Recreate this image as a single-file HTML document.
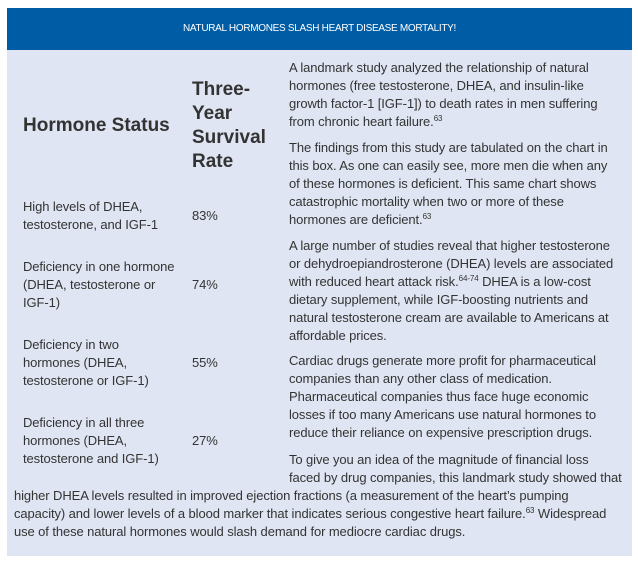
<!DOCTYPE html>
<html><head><meta charset="utf-8"><style>
body{margin:0;width:638px;height:564px;background:#fff;position:relative;font-family:"Liberation Sans",Arial,sans-serif;color:#333;overflow:hidden}
#box{position:absolute;left:7px;top:8px;width:625px;height:548px;background:#dfe5f2}
#hdr{position:absolute;left:7px;top:8px;width:625px;height:42px;background:#005ca4;color:#fff;font-size:10px;text-align:center;line-height:42px;letter-spacing:-0.3px}
.l{position:absolute;font-size:13px;line-height:18px;white-space:nowrap;letter-spacing:-0.1px}
.h{position:absolute;font-weight:bold;color:#333;white-space:nowrap}
sup{font-size:8px;vertical-align:5px;line-height:0}
</style></head><body>
<div id="box"></div>
<div id="hdr">NATURAL HORMONES SLASH HEART DISEASE MORTALITY!</div>

<div class="h" style="left:23px;top:114px;font-size:19px;line-height:24px">Hormone Status</div>
<div class="h" style="left:192px;top:78px;font-size:19px;line-height:24px">Three-<br>Year<br>Survival<br>Rate</div>

<div class="l" style="left:23px;top:198px">High levels of DHEA,<br>testosterone, and IGF-1</div>
<div class="l" style="left:192px;top:207px">83%</div>
<div class="l" style="left:23px;top:258px">Deficiency in one hormone<br>(DHEA, testosterone or<br>IGF-1)</div>
<div class="l" style="left:192px;top:276px">74%</div>
<div class="l" style="left:23px;top:336px">Deficiency in two<br>hormones (DHEA,<br>testosterone or IGF-1)</div>
<div class="l" style="left:192px;top:354px">55%</div>
<div class="l" style="left:23px;top:414px">Deficiency in all three<br>hormones (DHEA,<br>testosterone and IGF-1)</div>
<div class="l" style="left:192px;top:432px">27%</div>

<div class="l" style="left:289px;top:59px">A landmark study analyzed the relationship of natural<br>hormones (free testosterone, DHEA, and insulin-like<br>growth factor-1 [IGF-1]) to death rates in men suffering<br>from chronic heart failure.<sup>63</sup></div>
<div class="l" style="left:289px;top:139px">The findings from this study are tabulated on the chart in<br>this box. As one can easily see, more men die when any<br>of these hormones is deficient. This same chart shows<br>catastrophic mortality when two or more of these<br>hormones are deficient.<sup>63</sup></div>
<div class="l" style="left:289px;top:237px">A large number of studies reveal that higher testosterone<br>or dehydroepiandrosterone (DHEA) levels are associated<br>with reduced heart attack risk.<sup>64-74</sup> DHEA is a low-cost<br>dietary supplement, while IGF-boosting nutrients and<br>natural testosterone cream are available to Americans at<br>affordable prices.</div>
<div class="l" style="left:289px;top:352px">Cardiac drugs generate more profit for pharmaceutical<br>companies than any other class of medication.<br>Pharmaceutical companies thus face huge economic<br>losses if too many Americans use natural hormones to<br>reduce their reliance on expensive prescription drugs.</div>
<div class="l" style="left:289px;top:451px">To give you an idea of the magnitude of financial loss<br>faced by drug companies, this landmark study showed that</div>
<div class="l" style="left:14px;top:487px">higher DHEA levels resulted in improved ejection fractions (a measurement of the heart’s pumping<br>capacity) and lower levels of a blood marker that indicates serious congestive heart failure.<sup>63</sup> Widespread<br>use of these natural hormones would slash demand for mediocre cardiac drugs.</div>
</body></html>
